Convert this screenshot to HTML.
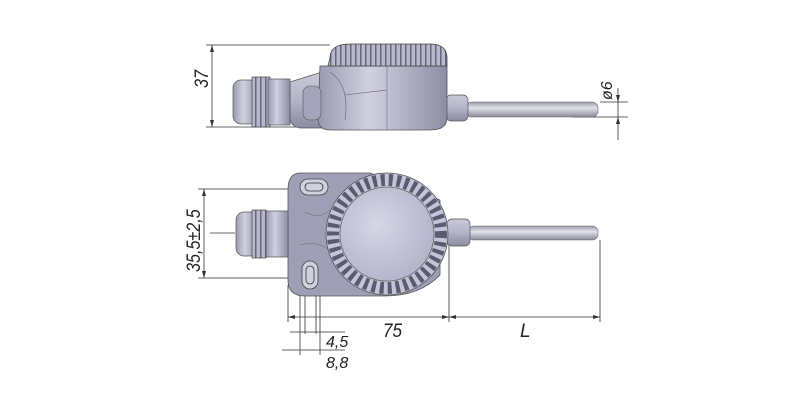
<!DOCTYPE html>
<html><head><meta charset="utf-8"><style>
html,body{margin:0;padding:0;background:#fff;}
svg{display:block;}
text{font-family:"Liberation Sans",sans-serif;font-style:italic;fill:#222;}
</style></head><body>
<svg width="800" height="400" viewBox="0 0 800 400" xmlns="http://www.w3.org/2000/svg">
<defs>
<linearGradient id="bv" x1="0" y1="0" x2="0" y2="1">
<stop offset="0" stop-color="#c9c9da"/><stop offset="0.5" stop-color="#b4b4c8"/><stop offset="1" stop-color="#8a8aa0"/></linearGradient>
<linearGradient id="bh" x1="0" y1="0" x2="1" y2="0">
<stop offset="0" stop-color="#9a9ab0"/><stop offset="0.4" stop-color="#d0d0e0"/><stop offset="1" stop-color="#8d8da4"/></linearGradient>
<linearGradient id="rod" x1="0" y1="0" x2="0" y2="1">
<stop offset="0" stop-color="#9a9aa8"/><stop offset="0.4" stop-color="#e2e2ea"/><stop offset="1" stop-color="#8a8a9a"/></linearGradient>
<radialGradient id="face" cx="0.4" cy="0.4" r="0.7">
<stop offset="0" stop-color="#d6d6e6"/><stop offset="1" stop-color="#b0b0c8"/></radialGradient>
<pattern id="rib" width="5" height="22" patternUnits="userSpaceOnUse">
<rect width="5" height="22" fill="#b8b8cc"/><rect x="0" width="1.5" height="22" fill="#66667c"/></pattern>
</defs>
<g stroke="#333" stroke-width="0.8" fill="none">
<line x1="206" y1="45" x2="330" y2="45"/>
<line x1="206" y1="127" x2="300" y2="127"/>
<line x1="212" y1="45" x2="212" y2="127"/>
<line x1="618" y1="88" x2="618" y2="140"/>
<line x1="600" y1="102" x2="628" y2="102"/>
<line x1="572" y1="117" x2="628" y2="117"/>
<line x1="198" y1="189" x2="290" y2="189"/>
<line x1="198" y1="278" x2="290" y2="278"/>
<line x1="204" y1="189" x2="204" y2="278"/>
<line x1="210" y1="233" x2="235" y2="233"/>
<line x1="288" y1="285" x2="288" y2="322"/>
<line x1="449" y1="245" x2="449" y2="322"/>
<line x1="600" y1="240" x2="600" y2="322"/>
<line x1="288" y1="317" x2="600" y2="317"/>
<line x1="300" y1="295" x2="300" y2="355"/>
<line x1="305" y1="295" x2="305" y2="334"/>
<line x1="316" y1="295" x2="316" y2="334"/>
<line x1="320" y1="295" x2="320" y2="355"/>
<line x1="290" y1="332" x2="345" y2="332"/>
<line x1="282" y1="350" x2="345" y2="350"/>
</g>
<g fill="#333">
<path d="M212 45 l-2 7 h4z"/><path d="M212 127 l-2 -7 h4z"/>
<path d="M204 189 l-2 7 h4z"/><path d="M204 278 l-2 -7 h4z"/>
<path d="M618 102 l-2 -7 h4z"/><path d="M618 117 l-2 7 h4z"/>
<path d="M288 317 l7 -2 v4z"/><path d="M449 317 l-7 -2 v4z"/><path d="M449 317 l7 -2 v4z"/><path d="M600 317 l-7 -2 v4z"/>
</g>
<text x="0" y="0" font-size="19" transform="translate(208,88) rotate(-90) scale(0.85,1)">37</text>
<text x="0" y="0" font-size="16" transform="translate(612,100) rotate(-90)">ø6</text>
<text x="0" y="0" font-size="19" transform="translate(200,272) rotate(-90) scale(0.85,1)">35,5±2,5</text>
<text x="383" y="337" font-size="19" transform="translate(383,0) scale(0.9,1) translate(-383,0)">75</text>
<text x="520" y="337" font-size="19">L</text>
<text x="326" y="347" font-size="16">4,5</text>
<text x="326" y="368" font-size="16">8,8</text>

<!-- TOP VIEW -->
<rect x="466" y="102" width="132" height="15" rx="6" fill="url(#rod)" stroke="#666" stroke-width="0.6"/>
<rect x="446" y="95" width="22" height="26" rx="5" fill="url(#bv)" stroke="#555" stroke-width="0.7"/>
<path d="M290 82 L322 72 L322 128 L300 128 Q290 126 290 118Z" fill="url(#bv)" stroke="#555" stroke-width="0.7"/>
<rect x="233" y="80" width="26" height="44" rx="8" fill="url(#bh)" stroke="#555" stroke-width="0.7"/>
<rect x="252" y="77" width="18" height="50" fill="url(#rib)" stroke="#444" stroke-width="0.7"/>
<rect x="268" y="79" width="22" height="46" fill="url(#bh)" stroke="#555" stroke-width="0.7"/>
<path d="M320 66 H447 V118 Q447 130 430 130 H330 Q318 130 318 118Z" fill="url(#bh)" stroke="#555" stroke-width="0.8"/>
<line x1="387" y1="66" x2="387" y2="130" stroke="#666" stroke-width="0.5"/>
<path d="M330 72 Q350 85 345 120 M345 95 L387 90" stroke="#666" stroke-width="0.6" fill="none"/>
<rect x="303" y="86" width="18" height="34" rx="7" fill="#a4a4ba" stroke="#555" stroke-width="0.6"/>
<path d="M330 58 Q330 44 350 44 H430 Q447 44 447 58 V66 H328Z" fill="url(#rib)" stroke="#444" stroke-width="0.8"/>

<!-- BOTTOM VIEW -->
<rect x="468" y="226" width="130" height="14" rx="6" fill="url(#rod)" stroke="#666" stroke-width="0.6"/>
<rect x="447" y="219" width="23" height="27" rx="5" fill="url(#bv)" stroke="#555" stroke-width="0.7"/>
<path d="M300 173 H370 L440 200 L440 275 Q420 296 385 296 H305 Q288 296 288 280 V190 Q288 173 300 173Z" fill="#9e9eb4" stroke="#555" stroke-width="0.8"/>
<path d="M305 212 Q320 220 330 210 M300 245 Q315 240 330 250" stroke="#666" stroke-width="0.5" fill="none"/>
<rect x="236" y="212" width="22" height="44" rx="8" fill="url(#bh)" stroke="#555" stroke-width="0.7"/>
<rect x="252" y="210" width="14" height="48" fill="url(#rib)" stroke="#444" stroke-width="0.7"/>
<rect x="266" y="211" width="22" height="46" fill="url(#bh)" stroke="#555" stroke-width="0.7"/>
<rect x="300" y="179" width="28" height="16" rx="8" fill="#d0d0de" stroke="#444" stroke-width="0.8"/>
<rect x="305" y="183" width="18" height="8" rx="4" fill="none" stroke="#333" stroke-width="0.8"/>
<rect x="302" y="261" width="16" height="28" rx="8" fill="#d0d0de" stroke="#444" stroke-width="0.8"/>
<rect x="306" y="266" width="8" height="18" rx="4" fill="none" stroke="#333" stroke-width="0.8"/>
<circle cx="387" cy="234" r="61" fill="#c4c4d6" stroke="#555" stroke-width="0.8"/>
<circle cx="387" cy="234" r="54" fill="none" stroke="#5a5a70" stroke-width="12" stroke-dasharray="4 4"/>
<circle cx="387" cy="234" r="47" fill="url(#face)" stroke="#666" stroke-width="0.8"/>
</svg>
</body></html>
